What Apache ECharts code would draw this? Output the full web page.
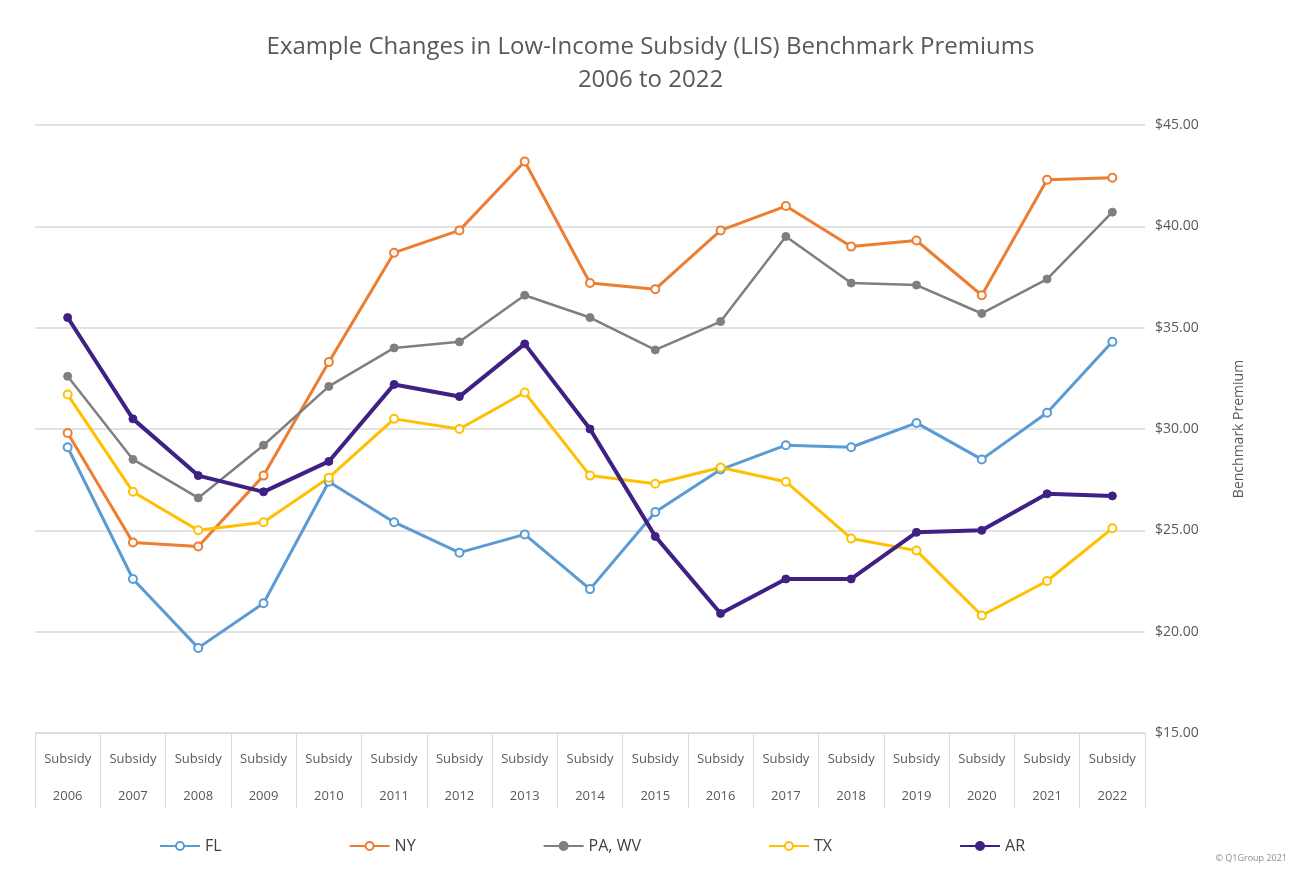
<!DOCTYPE html>
<html>
<head>
<meta charset="utf-8">
<title>LIS Benchmark Premiums</title>
<script src="https://cdn.jsdelivr.net/npm/echarts@6/dist/echarts.min.js"></script>
<style>
  html, body { margin: 0; padding: 0; background: #fff; }
  #chart { width: 1301px; height: 873px; }
</style>
</head>
<body>
<div id="chart"></div>
<script>
// data
const years = ['2006', '2007', '2008', '2009', '2010', '2011', '2012', '2013', '2014',
  '2015', '2016', '2017', '2018', '2019', '2020', '2021', '2022'];
const yTicks = [15, 20, 25, 30, 35, 40, 45];

const flValues = [29.1, 22.6, 19.2, 21.4, 27.4, 25.4, 23.9, 24.8, 22.1, 25.9, 28.0, 29.2, 29.1, 30.3, 28.5, 30.8, 34.3];
const nyValues = [29.8, 24.4, 24.2, 27.7, 33.3, 38.7, 39.8, 43.2, 37.2, 36.9, 39.8, 41.0, 39.0, 39.3, 36.6, 42.3, 42.4];
const paValues = [32.6, 28.5, 26.6, 29.2, 32.1, 34.0, 34.3, 36.6, 35.5, 33.9, 35.3, 39.5, 37.2, 37.1, 35.7, 37.4, 40.7];
const txValues = [31.7, 26.9, 25.0, 25.4, 27.6, 30.5, 30.0, 31.8, 27.7, 27.3, 28.1, 27.4, 24.6, 24.0, 20.8, 22.5, 25.1];
const arValues = [35.5, 30.5, 27.7, 26.9, 28.4, 32.2, 31.6, 34.2, 30.0, 24.7, 20.9, 22.6, 22.6, 24.9, 25.0, 26.8, 26.7];

const textColor = '#595959';
const lineGrey = '#d9d9d9';
const font = '"Open Sans", "Liberation Sans", sans-serif';

function makeSeries(name, data, color, width, filled) {
  return {
    name: name,
    type: 'line',
    data: data,
    symbol: filled ? 'circle' : 'emptyCircle',
    symbolSize: 8,
    lineStyle: { color: color, width: width },
    itemStyle: { color: color, borderColor: color, borderWidth: filled ? 1 : 2 },
    emphasis: { disabled: true }
  };
}

const chart = echarts.init(document.getElementById('chart'));

const option = {
  backgroundColor: '#ffffff',
  animation: false,
  title: {
    text: 'Example Changes in Low-Income Subsidy (LIS) Benchmark Premiums\n2006 to 2022',
    left: 'center',
    top: 26,
    textStyle: { color: textColor, fontFamily: font, fontSize: 24, fontWeight: 'normal', lineHeight: 33 }
  },
  legend: {
    bottom: 14,
    left: 154,
    itemWidth: 40,
    itemHeight: 10,
    itemGap: 127,
    textStyle: { color: '#404040', fontFamily: font, fontSize: 16 },
    data: ['FL', 'NY', 'PA, WV', 'TX', 'AR']
  },
  grid: { left: 35, right: 156, top: 125, bottom: 140 },
  xAxis: {
    type: 'category',
    data: years,
    boundaryGap: true,
    axisLine: { lineStyle: { color: lineGrey, width: 1 } },
    axisTick: { show: true, interval: 0, length: 75, lineStyle: { color: lineGrey } },
    axisLabel: {
      interval: 0,
      color: textColor,
      fontFamily: font,
      fontSize: 13,
      lineHeight: 37,
      margin: 8,
      formatter: function (v) { return 'Subsidy\n' + v; }
    }
  },
  yAxis: {
    type: 'value',
    position: 'right',
    min: yTicks[0],
    max: yTicks[yTicks.length - 1],
    interval: 5,
    name: 'Benchmark Premium',
    nameLocation: 'middle',
    nameRotate: 90,
    nameGap: 87,
    nameTextStyle: { color: textColor, fontFamily: font, fontSize: 14 },
    axisLine: { show: false },
    axisTick: { show: false },
    axisLabel: {
      color: textColor,
      fontFamily: font,
      fontSize: 14,
      margin: 10,
      formatter: function (v) { return '$' + v.toFixed(2); }
    },
    splitLine: { lineStyle: { color: lineGrey, width: 1.5 } }
  },
  graphic: [{
    type: 'text',
    right: 14,
    bottom: 10,
    style: { text: '© Q1Group 2021', fill: '#8c8c8c', font: '9px ' + font }
  }],
  series: [
    makeSeries('FL', flValues, '#5b9bd5', 3, false),
    makeSeries('NY', nyValues, '#ed7d31', 3, false),
    makeSeries('PA, WV', paValues, '#7f7f7f', 2.5, true),
    makeSeries('TX', txValues, '#ffc000', 3, false),
    makeSeries('AR', arValues, '#3f2185', 4, true)
  ]
};

chart.setOption(option);
</script>
</body>
</html>
